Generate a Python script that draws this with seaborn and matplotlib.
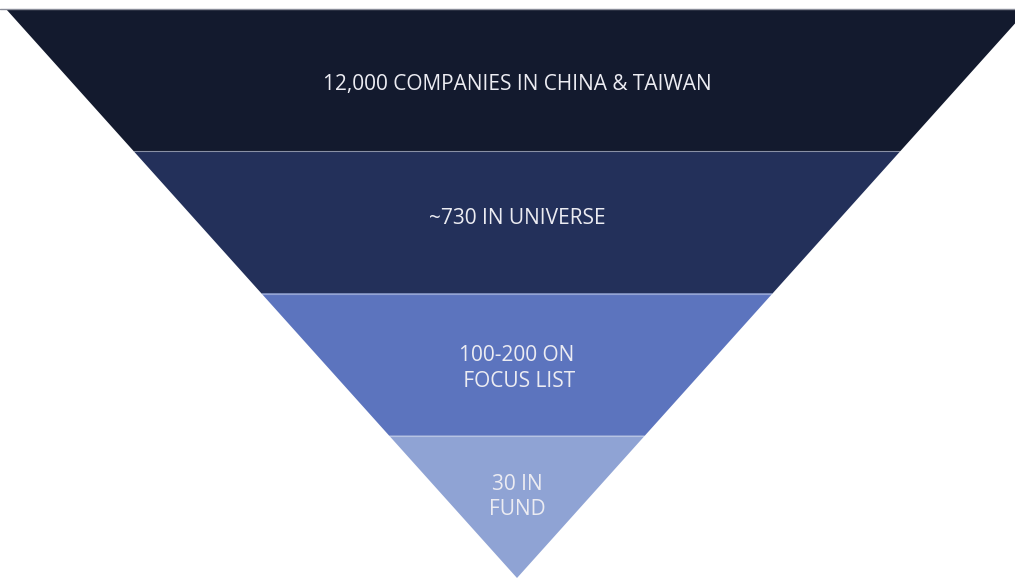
import numpy as np
import pandas as pd
import seaborn as sns
import matplotlib.pyplot as plt

sns.set_theme(style="white")
plt.rcParams["font.family"] = ["Open Sans", "DejaVu Sans"]

# funnel stages, top to bottom
stages = ["12,000 COMPANIES IN CHINA & TAIWAN", "~730 IN UNIVERSE",
          "100-200 ON\n FOCUS LIST", "30 IN\nFUND"]
colors = ["#131a2e", "#23305a", "#5c74be", "#8fa3d4"]
label_y = [3.472, 2.53, 1.475, 0.57]

n = len(stages)
fig = plt.figure(figsize=(10.15, 5.78), dpi=100)
ax = fig.add_axes([0, 0, 1, 1 - 9 / 578])

for i, (name, c) in enumerate(zip(stages, colors)):
    top = n - i
    bot = top - 1
    wt, wb = top / n, bot / n
    ax.fill([-wt, wt, wb, -wb], [top, top, bot, bot], color=c, lw=0)
    if i > 0:
        ax.plot([-wt, wt], [top, top], color="white", alpha=0.35, lw=0.8)
    ax.text(0, label_y[i], name, ha="center", va="center",
            color="#ececf2", fontsize=15, linespacing=1.3)

ax.set_xlim(-517 / 511, (1015 - 517) / 511)
ax.set_ylim(0, n)
ax.axis("off")
fig.add_artist(plt.Line2D([0, 1], [1 - 9 / 578, 1 - 9 / 578], color="#8a8d99", lw=1))

fig.savefig("out.png", dpi=100)
